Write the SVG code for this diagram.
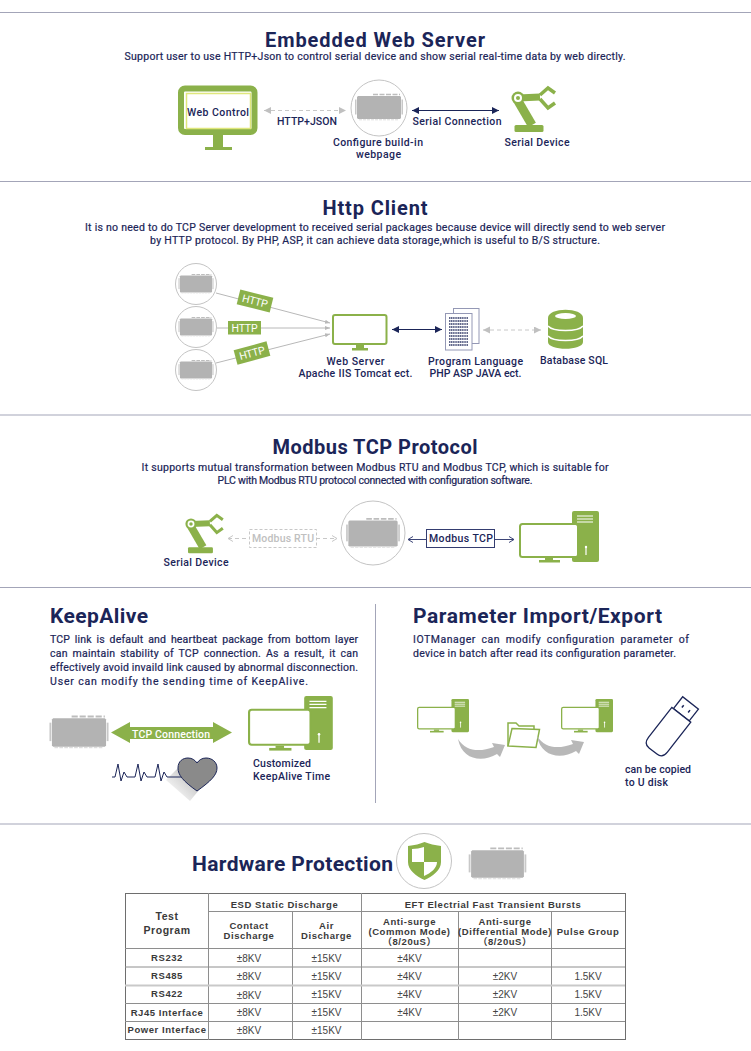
<svg xmlns="http://www.w3.org/2000/svg" width="751" height="1051" viewBox="0 0 751 1051">
<style>
text{font-family:"Roboto","Liberation Sans",sans-serif;fill:#1b2558;font-weight:500}
.h{font-size:20px;font-weight:700;text-anchor:middle}
.h2{font-size:21px;font-weight:700}
.b{font-size:10.5px;font-weight:400;stroke:#1b2558;stroke-width:.2}
.c{text-anchor:middle}
.l{font-size:10.5px}
.sep{stroke:#a3a5b8;stroke-width:1;fill:none}
.g{fill:#8bb14a}
.dev{fill:#b3b3b3}
.lnk{fill:none;stroke:#1b2558;stroke-width:1}
.gl{fill:none;stroke:#b8b8b8;stroke-width:1}
.gd{fill:none;stroke:#c8c8c8;stroke-width:1;stroke-dasharray:4 3}
.ring{fill:#fff;stroke:#c4c4c4;stroke-width:1}
.t text{font-family:"Liberation Sans",Arial,"Noto Sans CJK SC",sans-serif;fill:#444;font-size:10px;font-weight:400;text-anchor:middle}
.t .bd{font-size:9.5px;font-weight:700;letter-spacing:.55px;fill:#3a3a3a}
.t line{stroke:#8e8e8e;stroke-width:1}
</style>
<defs>
<marker id="an" markerWidth="8" markerHeight="8" refX="7" refY="3.5" orient="auto-start-reverse" markerUnits="userSpaceOnUse"><path d="M0,0L7,3.500L0,7Z" fill="#1b2558"/></marker>
<marker id="ag" markerWidth="8" markerHeight="8" refX="7" refY="3.5" orient="auto-start-reverse" markerUnits="userSpaceOnUse"><path d="M0,0L7,3.500L0,7Z" fill="#c0c0c0"/></marker>
<marker id="as" markerWidth="6" markerHeight="6" refX="5" refY="3" orient="auto-start-reverse" markerUnits="userSpaceOnUse"><path d="M0,1L5,3L0,5Z" fill="#b8b8b8"/></marker>
<marker id="ao" markerWidth="7" markerHeight="8" refX="6" refY="4" orient="auto-start-reverse" markerUnits="userSpaceOnUse"><path d="M1,1L6,4L1,7" fill="none" stroke="#3c4577"/></marker>
<marker id="aog" markerWidth="7" markerHeight="8" refX="6" refY="4" orient="auto-start-reverse" markerUnits="userSpaceOnUse"><path d="M1,1L6,4L1,7" fill="none" stroke="#c8c8c8"/></marker>
<symbol id="device" overflow="visible">
<path class="dev" d="M-21,-11.500H21L22,-10.500V10.500L21,11.500H-21L-22,10.500V-10.500Z"/>
<rect x="-24" y="-8" width="1.500" height="15" fill="#c8c8c8"/><rect x="22.500" y="-8" width="1.500" height="15" fill="#c8c8c8"/>
<path d="M-6,-13H21" stroke="#bdbdbd" stroke-width="1.600" stroke-dasharray="5 1.500" fill="none"/>
<path d="M-20,12.300H20" stroke="#dddddd" stroke-width="1" stroke-dasharray="3 1" fill="none"/>
</symbol>
<symbol id="robot" overflow="visible">
<path d="M0,3L14,27" stroke="#8bb14a" stroke-width="9" fill="none"/>
<path d="M0,0L22,-1" stroke="#8bb14a" stroke-width="7" fill="none"/>
<path d="M22,-3L30,-10L37,-5M22,1L30,10L37,5" stroke="#8bb14a" stroke-width="3.500" fill="none"/>
<circle r="6.500" fill="#8bb14a"/><circle r="4" fill="#fff"/><circle r="2" fill="#8bb14a"/>
<rect class="g" x="-3.500" y="27" width="29" height="7" rx="1.500"/>
</symbol>
<symbol id="pc" overflow="visible">
<rect class="g" x="53" y="0" width="27" height="51" rx="2"/>
<path d="M58,5H74M58,8H74M58,11H74" stroke="#fff" stroke-width="1.200" fill="none"/>
<path d="M67,36V44" stroke="#fff" stroke-width="1.200"/><circle cx="67" cy="36" r="1.200" fill="#fff"/>
<rect x="1" y="13" width="58" height="33" rx="2.500" fill="#fff" stroke="#8bb14a" stroke-width="2"/>
<rect class="g" x="26" y="47" width="8" height="2"/><rect class="g" x="20" y="49" width="21" height="2.500"/>
</symbol>
<linearGradient id="sh" x1="1" y1="0" x2="0" y2="1"><stop offset="0" stop-color="#b0b0b0"/><stop offset=".9" stop-color="#fff"/></linearGradient>
</defs>
<rect width="751" height="1051" fill="#fff"/>
<g id="separators">
<path class="sep" d="M0,12.500H751M0,181.500H751M0,415H751M0,587.500H751M0,824H751"/>
<path class="sep" d="M375.500,604V803"/>
</g>
<g id="connectors">
<path class="gd" d="M264,110.500H346" marker-start="url(#ag)" marker-end="url(#ag)"/>
<path class="lnk" d="M412,110.500H499" marker-start="url(#an)" marker-end="url(#an)"/>
<path class="gl" d="M216,293L330,323" marker-end="url(#as)"/>
<path class="gl" d="M217,328H330" marker-end="url(#as)"/>
<path class="gl" d="M216,363L330,334" marker-end="url(#as)"/>
<path class="lnk" d="M392,329.500H442" marker-start="url(#an)" marker-end="url(#an)"/>
<path class="gd" d="M483,330H541" marker-start="url(#ag)" marker-end="url(#ag)"/>
<path class="gd" d="M228,538.500H249" marker-start="url(#aog)"/>
<path class="gd" d="M316,538.500H337" marker-end="url(#aog)"/>
<path class="lnk" style="stroke:#3c4577" d="M408,539.500H427" marker-start="url(#ao)"/>
<path class="lnk" style="stroke:#3c4577" d="M495,539.500H514" marker-end="url(#ao)"/>
</g>
<g id="sec1">
<text class="h" x="375" y="47" textLength="220">Embedded Web Server</text>
<text class="b c" x="375" y="60" textLength="501">Support user to use HTTP+Json to control serial device and show serial real-time data by web directly.</text>
<g id="web-control">
<rect x="181" y="88.500" width="73.500" height="43.500" rx="4" fill="#fff" stroke="#8bb14a" stroke-width="6"/>
<rect x="186.500" y="93.500" width="64" height="35" fill="#fff" stroke="#dfe77c" stroke-width="1.500"/>
<rect class="g" x="213" y="135" width="10" height="13"/><rect class="g" x="205" y="147" width="27" height="3"/>
<text class="c l" x="218" y="116" textLength="62">Web Control</text>
</g>
<text class="c l" x="307" y="125" textLength="60">HTTP+JSON</text>
<g id="webpage">
<circle class="ring" cx="379" cy="108" r="28"/>
<use href="#device" x="379" y="107.500"/>
<text class="c l" x="378" y="146" textLength="90">Configure build-in</text>
<text class="c l" x="378.500" y="158" textLength="45">webpage</text>
</g>
<text class="c l" x="457" y="125" textLength="89">Serial Connection</text>
<g id="serial-device-1">
<use href="#robot" x="518" y="98"/>
<text class="c l" x="537" y="146" textLength="65">Serial Device</text>
</g>
</g>
<g id="sec2">
<text class="h" x="375" y="214.500" textLength="105">Http Client</text>
<text class="b c" x="375" y="231" textLength="580">It is no need to do TCP Server development to received serial packages because device will directly send to web server</text>
<text class="b c" x="375" y="244" textLength="450">by HTTP protocol. By PHP, ASP, it can achieve data storage,which is useful to B/S structure.</text>
<g id="device-a"><circle class="ring" cx="196" cy="284" r="20.500"/><use href="#device" transform="translate(196,284) scale(.73)"/></g>
<g id="device-b"><circle class="ring" cx="196" cy="327" r="20.500"/><use href="#device" transform="translate(196,327) scale(.73)"/></g>
<g id="device-c"><circle class="ring" cx="196" cy="370" r="20.500"/><use href="#device" transform="translate(196,370) scale(.73)"/></g>
<g id="http-a" transform="translate(255,301) rotate(14)"><rect class="g" x="-17" y="-7.500" width="34" height="15"/><text class="l c" y="3.800" style="fill:#fff;font-weight:400" textLength="26">HTTP</text></g>
<g id="http-b"><rect class="g" x="228" y="321" width="33" height="13.500"/><text class="l c" x="244.500" y="331.500" style="fill:#fff;font-weight:400" textLength="26">HTTP</text></g>
<g id="http-c" transform="translate(252,353) rotate(-15)"><rect class="g" x="-17" y="-7.500" width="34" height="15"/><text class="l c" y="3.800" style="fill:#fff;font-weight:400" textLength="26">HTTP</text></g>
<g id="web-server">
<rect x="333" y="315" width="53.500" height="29" rx="2" fill="#fff" stroke="#8bb14a" stroke-width="2"/>
<rect class="g" x="356" y="345" width="8" height="4"/><rect class="g" x="352" y="348" width="16" height="2.500"/>
<text class="c l" x="355.500" y="365" textLength="58">Web Server</text>
<text class="c l" x="355.500" y="377" textLength="114">Apache IIS Tomcat ect.</text>
</g>
<g id="program-language">
<rect x="453.500" y="308.500" width="25.500" height="35" fill="#fff" stroke="#9498b5" stroke-width="1"/>
<rect x="445.500" y="313.500" width="26.500" height="36.500" fill="#fff" stroke="#9498b5" stroke-width="1"/>
<path d="M449,318H468M449,321H468M449,324H468M449,327H468M449,330H468M449,333H468M449,336H468M449,339H468M449,342H468M449,345H468" stroke="#2f3766" stroke-width="1.400" stroke-dasharray="1.300 .5" fill="none"/>
<text class="c l" x="475.500" y="365" textLength="95">Program Language</text>
<text class="c l" x="475.500" y="377" textLength="92">PHP ASP JAVA ect.</text>
</g>
<g id="database">
<path class="g" d="M548,318C548,307 583,307 583,318V342C583,351 548,351 548,342Z"/>
<ellipse cx="565.500" cy="316" rx="10.500" ry="3" fill="#fff"/>
<path d="M548,326C553,332 578,332 583,326M548,336C553,342 578,342 583,336" stroke="#fff" stroke-width="1.600" fill="none"/>
<text class="c l" x="574" y="364" textLength="68">Batabase SQL</text>
</g>
</g>
<g id="sec3">
<text class="h" x="375" y="454" textLength="205">Modbus TCP Protocol</text>
<text class="b c" x="375" y="471" textLength="467">It supports mutual transformation between Modbus RTU and Modbus TCP, which is suitable for</text>
<text class="b c" x="375" y="484" textLength="315">PLC with Modbus RTU protocol connected with configuration software.</text>
<g id="serial-device-2">
<use href="#robot" transform="translate(191,524) scale(.86)"/>
<text class="c l" x="196" y="566" textLength="65">Serial Device</text>
</g>
<g id="modbus-rtu"><rect x="249.500" y="529.500" width="67" height="18" fill="#fff" stroke="#c8c8c8" stroke-dasharray="3 2"/><text class="c l" x="283" y="542" style="fill:#c0c0c0" textLength="62">Modbus RTU</text></g>
<g id="modbus-device"><circle class="ring" cx="373" cy="533" r="32"/><use href="#device" transform="translate(373,533.500) scale(1.120)"/></g>
<g id="modbus-tcp"><rect x="426.500" y="529.500" width="68" height="18" fill="#fff" stroke="#343d70"/><text class="c l" x="461" y="542" textLength="64">Modbus TCP</text></g>
<g id="pc-1"><use href="#pc" x="519" y="511"/></g>
</g>
<g id="keepalive">
<text class="h2" x="50" y="623" textLength="98">KeepAlive</text>
<text class="b" x="50" y="643" textLength="308" style="word-spacing:2px">TCP link is default and heartbeat package from bottom layer</text>
<text class="b" x="50" y="657" textLength="308" style="word-spacing:2px">can maintain stability of TCP connection. As a result, it can</text>
<text class="b" x="50" y="671" textLength="308">effectively avoid invaild link caused by abnormal disconnection.</text>
<text class="b" x="50" y="685" textLength="258">User can modify the sending time of KeepAlive.</text>
<g id="ka-device"><use href="#device" transform="translate(79,732.500) scale(1.230)"/></g>
<g id="tcp-connection"><path class="g" d="M111,732.500L130,722V727H213V722L232,732.500L213,743V739H130V743Z"/><text class="c l" x="171" y="738" style="fill:#fff" textLength="78">TCP Connection</text></g>
<g id="ka-pc"><use href="#pc" transform="translate(248,696) scale(1.060)"/>
<text class="l" x="253" y="767" textLength="58">Customized</text>
<text class="l" x="253" y="780" textLength="77">KeepAlive Time</text></g>
<g id="heart">
<path d="M180,766L199,790L190,801L166,780Z" fill="url(#sh)"/>
<path d="M112,777H115L118,764L121,781L124,772L127,777H135L138,764L141,781L144,772L147,777H155L158,764L161,781L164,772L167,777H181" fill="none" stroke="#1b2558" stroke-width="1"/>
<path d="M197,791C183,781 178,775 178,768C178,761 183,758 188,758C192,758 195,760 197,763C199,760 202,758 206,758C212,758 217,762 217,768C217,775 211,781 197,791Z" fill="#8a8a8a" stroke="#1b2558"/>
</g>
</g>
<g id="param">
<text class="h2" x="413" y="623" textLength="249">Parameter Import/Export</text>
<text class="b" x="413" y="643" textLength="276" style="word-spacing:2.500px">IOTManager can modify configuration parameter of</text>
<text class="b" x="413" y="657" textLength="263">device in batch after read its configuration parameter.</text>
<g id="pc-a"><use href="#pc" transform="translate(417,699) scale(.65)"/></g>
<g id="pc-b"><use href="#pc" transform="translate(561,699) scale(.65)"/></g>
<g id="folder">
<path d="M508,746V723H516L519,726H534V730" fill="none" stroke="#8bb14a" stroke-width="1.500"/>
<path d="M512,728.500L539.500,729.500L536,747.500L508,746Z" fill="#fff" stroke="#8bb14a" stroke-width="1.500"/>
</g>
<path id="flow-a" d="M458,739C462,760 482,763 497,754L500,757L505,745L492,743L494,747C480,752 466,752 458,739Z" fill="#b8b8b8"/>
<path id="flow-b" transform="translate(79,-3)" d="M458,739C462,760 482,763 497,754L500,757L505,745L492,743L494,747C480,752 466,752 458,739Z" fill="#b8b8b8"/>
<g id="usb">
<g transform="translate(653,751) rotate(-52)" fill="#fff" stroke="#1b2558" stroke-width="1.300">
<rect x="46" y="-10" width="15" height="20"/>
<path d="M46,-12H8Q0,-12 0,-5V5Q0,12 8,12H46Z"/>
<path d="M52,-4H55M52,4H55" stroke-width="1.500"/>
</g>
<text class="l" x="625" y="773" textLength="66">can be copied</text>
<text class="l" x="625" y="786" textLength="43">to U disk</text>
</g>
</g>
<g id="hardware">
<text class="h2" x="192" y="871" textLength="201">Hardware Protection</text>
<g id="shield">
<circle class="ring" cx="424" cy="861" r="27.500"/>
<path class="g" d="M408,846C415,845 420,844 424.500,842C429,844 435,845 441,846V862C441,870 433,876 424.500,880C416,876 408,870 408,862Z"/>
<path d="M412,849C416,849 420,848 424,847V862H412ZM424,862H437C437,868 431,873 424,876Z" fill="#fff"/>
</g>
<g id="hw-device"><use href="#device" transform="translate(497.500,864) scale(1.200)"/></g>
<g id="spec-table" class="t">
<rect x="125.500" y="893.500" width="500" height="146" fill="none" stroke="#6e6e6e"/>
<line x1="208.500" y1="893" x2="208.500" y2="1040"/>
<line x1="361.500" y1="893" x2="361.500" y2="1040"/>
<line x1="292.500" y1="912" x2="292.500" y2="1040"/>
<line x1="458.500" y1="912" x2="458.500" y2="1040"/>
<line x1="551.500" y1="912" x2="551.500" y2="1040"/>
<line x1="208" y1="911.500" x2="625" y2="911.500"/>
<line x1="125" y1="948.500" x2="625" y2="948.500"/>
<line x1="125" y1="967" x2="625" y2="967"/>
<line x1="125" y1="985.500" x2="625" y2="985.500" style="stroke:#c9c9c9;stroke-width:2"/>
<line x1="125" y1="1003.500" x2="625" y2="1003.500"/>
<line x1="125" y1="1021.500" x2="625" y2="1021.500"/>
<text class="bd" x="167" y="920" style="font-size:10.500px">Test</text>
<text class="bd" x="167" y="934" style="font-size:10.500px">Program</text>
<text class="bd" x="284.500" y="908">ESD Static Discharge</text>
<text class="bd" x="493" y="908">EFT Electrial Fast Transient Bursts</text>
<text class="bd" x="249" y="929">Contact</text><text class="bd" x="249" y="939">Discharge</text>
<text class="bd" x="326.500" y="929">Air</text><text class="bd" x="326.500" y="939">Discharge</text>
<text class="bd" x="409.500" y="925">Anti-surge</text><text class="bd" x="409.500" y="935">(Common Mode)</text><text class="bd" x="409.500" y="945">（8/20uS）</text>
<text class="bd" x="505" y="925">Anti-surge</text><text class="bd" x="505" y="935">(Differential Mode)</text><text class="bd" x="505" y="945">（8/20uS）</text>
<text class="bd" x="588" y="935">Pulse Group</text>
<text class="bd" x="167" y="961">RS232</text><text x="249" y="962">±8KV</text><text x="326.500" y="962">±15KV</text><text x="409.500" y="962">±4KV</text>
<text class="bd" x="167" y="979">RS485</text><text x="249" y="980">±8KV</text><text x="326.500" y="980">±15KV</text><text x="409.500" y="980">±4KV</text><text x="505" y="980">±2KV</text><text x="588" y="980">1.5KV</text>
<text class="bd" x="167" y="997">RS422</text><text x="249" y="999">±8KV</text><text x="326.500" y="998">±15KV</text><text x="409.500" y="998">±4KV</text><text x="505" y="998">±2KV</text><text x="588" y="998">1.5KV</text>
<text class="bd" x="167" y="1016">RJ45 Interface</text><text x="249" y="1016">±8KV</text><text x="326.500" y="1016">±15KV</text><text x="409.500" y="1016">±4KV</text><text x="505" y="1016">±2KV</text><text x="588" y="1016">1.5KV</text>
<text class="bd" x="167" y="1033">Power Interface</text><text x="249" y="1034">±8KV</text><text x="326.500" y="1034">±15KV</text>
</g>
</g>
</svg>
